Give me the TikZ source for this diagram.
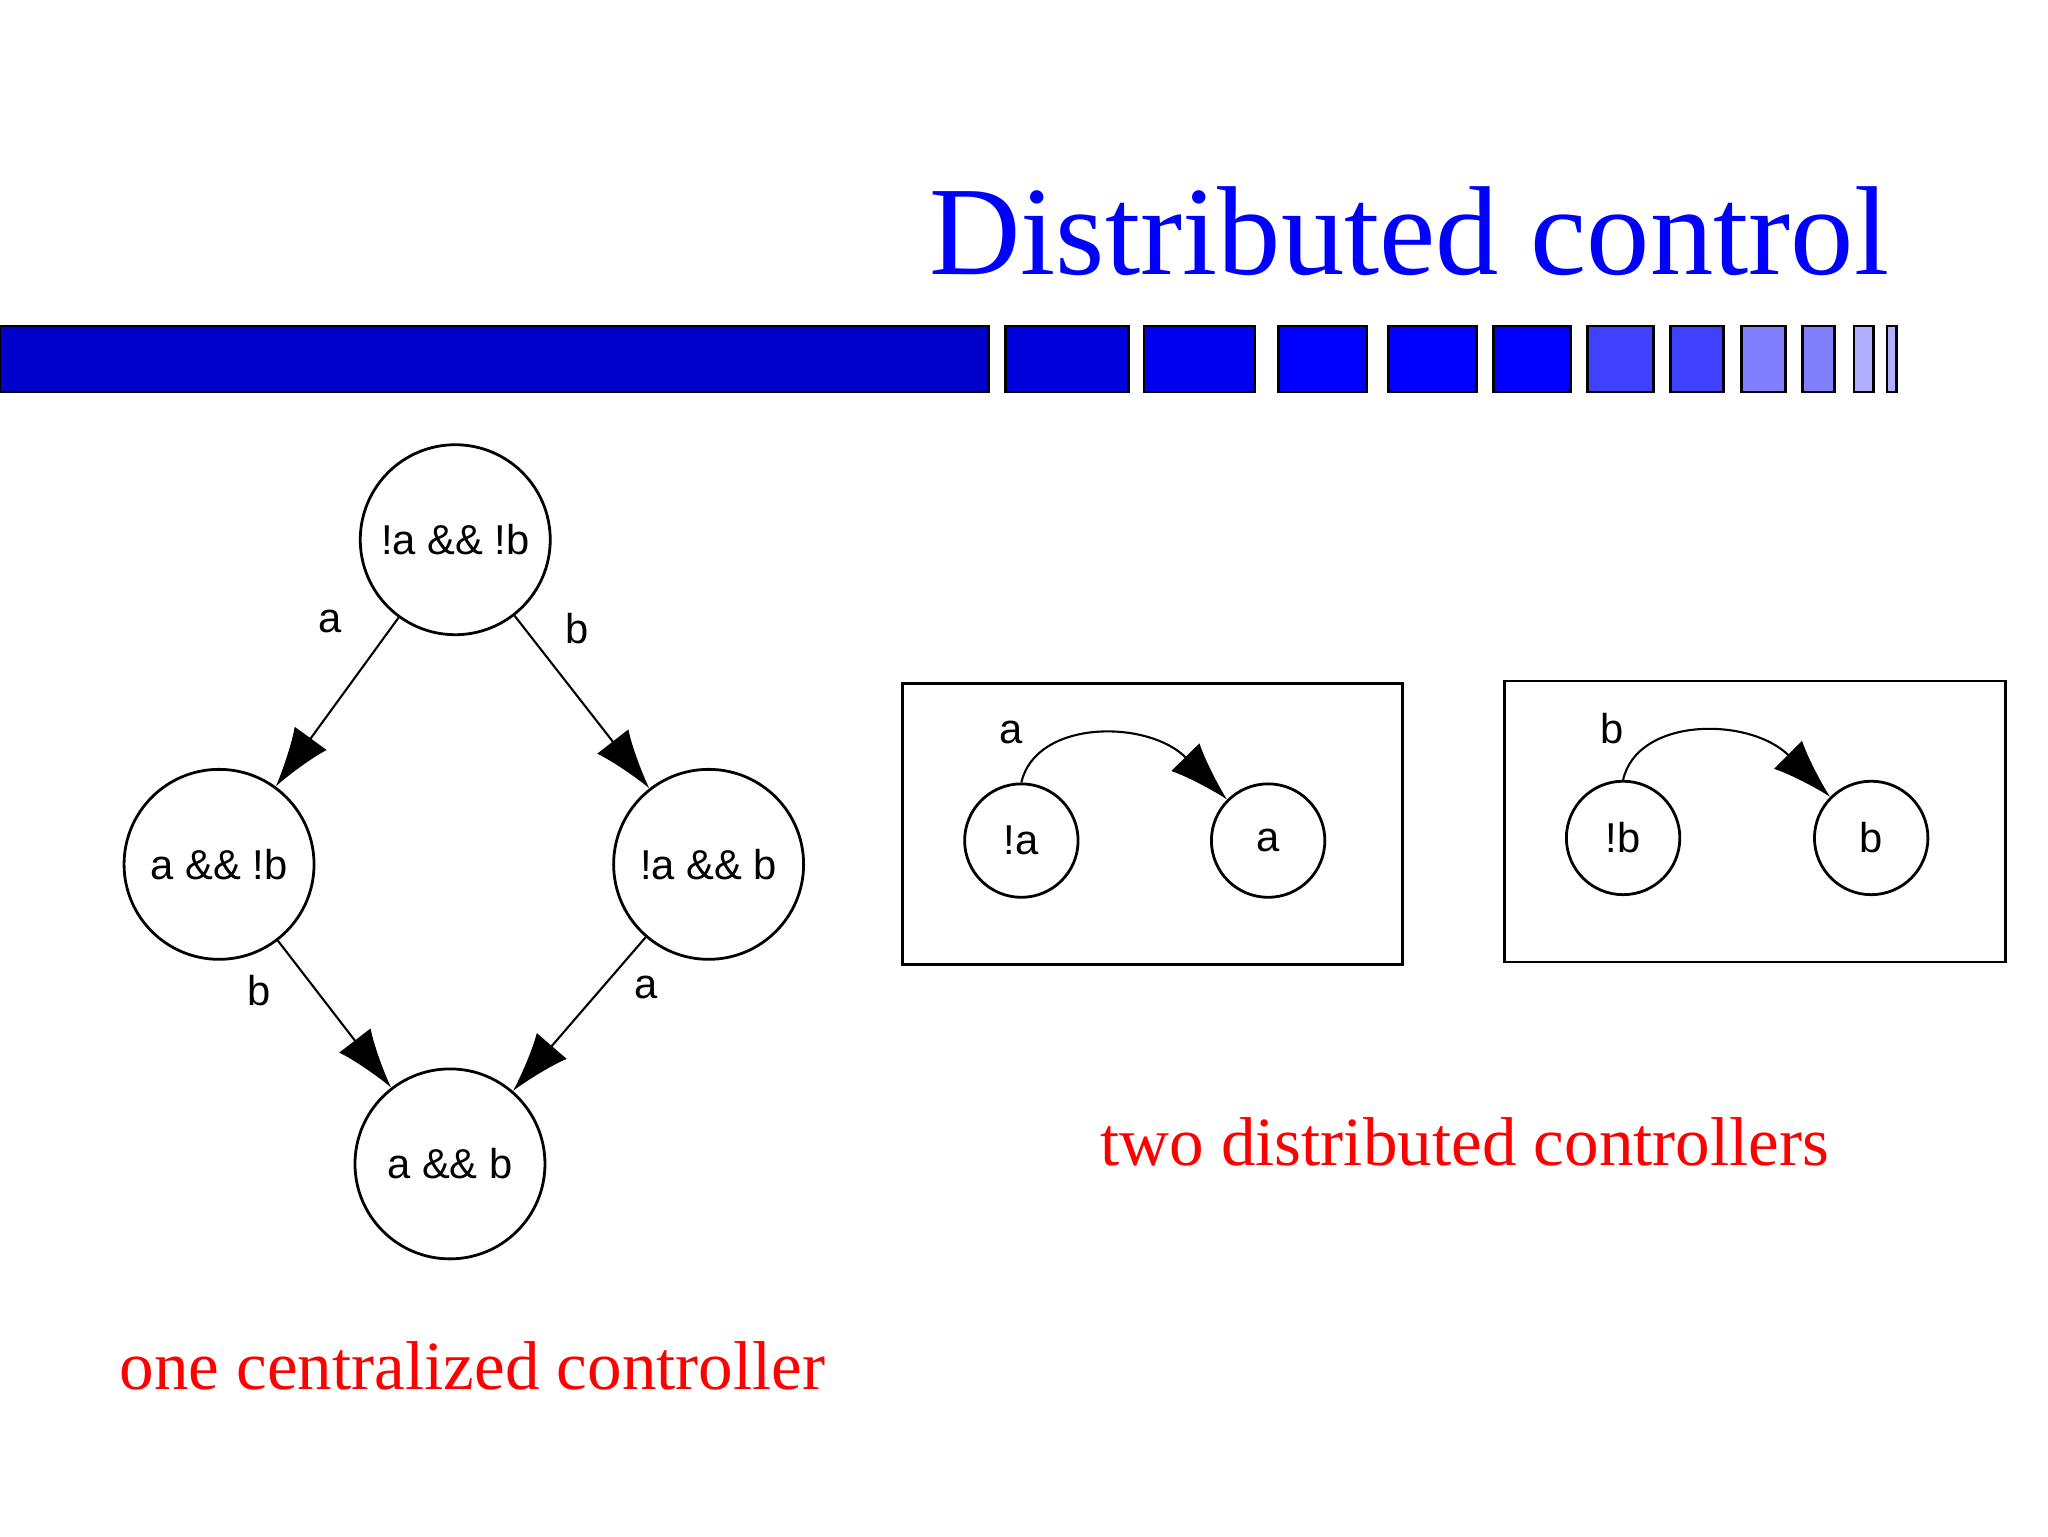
\documentclass[tikz,border=0pt]{standalone}
\usepackage{fontspec}
\setmainfont{Liberation Serif}
\newfontfamily\sff{Liberation Sans}
\usetikzlibrary{arrows.meta}
\begin{document}
\begin{tikzpicture}[x=0.02cm,y=-0.02cm,
 st/.style={circle,draw,line width=1.2pt,minimum size=2.88cm,inner sep=0pt,font=\sff\fontsize{18}{20}\selectfont},
 sst/.style={circle,draw,line width=1.2pt,minimum size=1.72cm,inner sep=0pt,font=\sff\fontsize{18}{20}\selectfont},
 ed/.style={line width=0.9pt,-{Latex[length=0.9cm,width=0.6cm]}},
 lb/.style={font=\sff\fontsize{18}{20}\selectfont},
 seg/.style={draw=black,line width=1.2pt},
 red/.style={text=red,font=\fontsize{29.8}{32}\selectfont}]
\useasboundingbox (0,0) rectangle (1552,1164);
\node[anchor=base east,text=blue,font=\fontsize{54.6}{60}\selectfont,inner sep=0pt] (title) at (1432,208) {Distributed control};
\definecolor{b1}{HTML}{0000CC}\definecolor{b2}{HTML}{0000DD}\definecolor{b3}{HTML}{0000F0}
\definecolor{b4}{HTML}{0000FF}\definecolor{b5}{HTML}{4040FF}\definecolor{b6}{HTML}{8080FF}\definecolor{b7}{HTML}{B0B0FF}
\foreach \a/\b/\c in {0/749/b1,762/855/b2,867/951/b3,969/1036/b4,1052/1119/b4,1132/1190/b4,1203/1253/b5,1266/1306/b5,1320/1353/b6,1366/1390/b6,1405/1420/b7,1430/1437/b7}
 \draw[seg,fill=\c] (\a,247) rectangle (\b,297);
\node[st] (n0) at (345,409) {!a \&\& !b};
\node[st] (n1) at (166,655) {a \&\& !b};
\node[st] (n2) at (537,655) {!a \&\& b};
\node[st] (n3) at (341,882) {a \&\& b};
\draw[ed] (n0) -- (n1);
\draw[ed] (n0) -- (n2);
\draw[ed] (n1) -- (n3);
\draw[ed] (n2) -- (n3);
\node[lb] (la1) at (250,471) {a};
\node[lb] (la2) at (437,476) {b};
\node[lb] (la3) at (196,751) {b};
\node[lb] (la4) at (490,748) {a};
\draw[line width=1.2pt] (684,518) rectangle (1063,731);
\draw[line width=1.2pt] (1140,516) rectangle (1520,729);
\node[sst] (na) at (774,637) {!a};
\node[sst] (a) at (961,637) {a};
\node[sst] (nb) at (1230,635) {!b};
\node[sst] (b) at (1418,635) {b};
\draw[ed] (na.north) .. controls (785,545) and (870,545) .. (a.north west);
\draw[ed] (nb.north) .. controls (1241,543) and (1326,543) .. (b.north west);
\node[lb] (l5) at (766,555) {a};
\node[lb] (l6) at (1222,552) {b};
\node[red] (t1) at (1110,865) {two distributed controllers};
\node[red] (t2) at (358,1035) {one centralized controller};
\end{tikzpicture}
\end{document}
